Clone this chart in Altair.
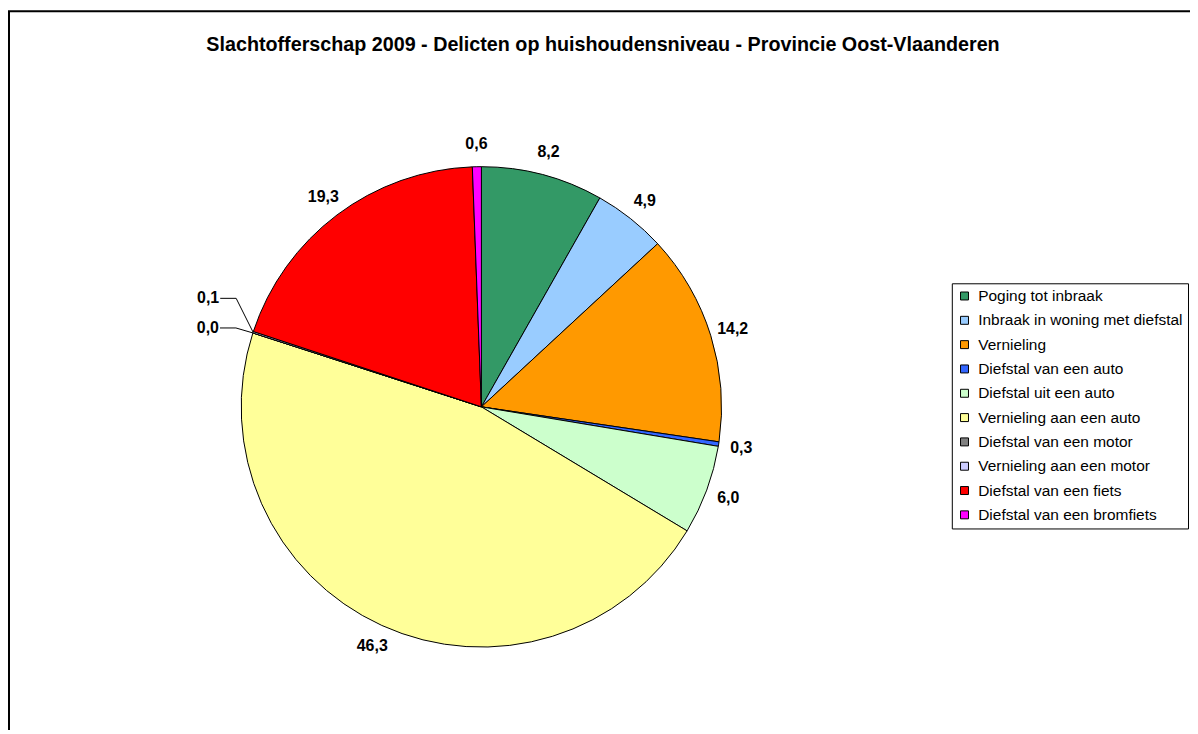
import math
import altair as alt
import pandas as pd

categories = [
    "Poging tot inbraak",
    "Inbraak in woning met diefstal",
    "Vernieling",
    "Diefstal van een auto",
    "Diefstal uit een auto",
    "Vernieling aan een auto",
    "Diefstal van een motor",
    "Vernieling aan een motor",
    "Diefstal van een fiets",
    "Diefstal van een bromfiets",
]
values = [8.2, 4.9, 14.2, 0.3, 6.0, 46.3, 0.0, 0.1, 19.3, 0.6]
colors = ["#339966", "#99CCFF", "#FF9900", "#3366FF", "#CCFFCC",
          "#FFFF99", "#808080", "#CCCCFF", "#FF0000", "#FF00FF"]
small_label_cats = ["Diefstal van een motor", "Vernieling aan een motor"]
title_text = "Slachtofferschap 2009 - Delicten op huishoudensniveau - Provincie Oost-Vlaanderen"

FONT = "Liberation Sans"
CX, CY, R, RL = 474, 397, 241, 264
LABEL_SIZE = 16

labels = [f"{v:.1f}".replace(".", ",") for v in values]
df = pd.DataFrame({
    "cat": categories,
    "val": values,
    "idx": list(range(len(values))),
    "label": labels,
    "mainlabel": [l if c not in small_label_cats else "" for c, l in zip(categories, labels)],
})

# leader lines for the tiny slices, derived from the slice angles
total = sum(values)
cum = 0.0
mids = {}
for c, v in zip(categories, values):
    mids[c] = (cum + v / 2) / total * 2 * math.pi
    cum += v
lead_rows, small_rows = [], []
offsets = {"Diefstal van een motor": -5, "Vernieling aan een motor": -34}
for c in small_label_cats:
    a = mids[c]
    rx, ry = CX + R * math.sin(a), CY - R * math.cos(a)
    cy_ = ry + offsets[c]
    pts = [(rx - 33, cy_), (rx - 17, cy_), (rx, ry)]
    for s, (px, py) in enumerate(pts):
        lead_rows.append({"cat": c, "seq": s, "px": px, "py": py})
    small_rows.append({"cat": c, "px": rx - 34, "py": cy_,
                       "label": labels[categories.index(c)]})
lead_df = pd.DataFrame(lead_rows)
small_df = pd.DataFrame(small_rows)

base = alt.Chart(df)

pie = base.mark_arc(radius=R, stroke="black", strokeWidth=1).encode(
    theta=alt.Theta("val:Q", stack=True),
    color=alt.Color(
        "cat:N",
        scale=alt.Scale(domain=categories, range=colors),
        sort=categories,
        legend=alt.Legend(
            title=None, orient="none", legendX=946, legendY=273,
            strokeColor="black", fillColor="white", padding=5,
            symbolType="square", symbolSize=64, symbolStrokeColor="black",
            symbolStrokeWidth=1, symbolOpacity=1,
            labelFont=FONT, labelFontSize=15.5, labelColor="black",
            labelLimit=400, rowPadding=7.4, labelOffset=6,
        ),
    ),
    order=alt.Order("idx:Q"),
    x=alt.value(CX), y=alt.value(CY),
)

text = base.mark_text(radius=RL, font=FONT, fontSize=LABEL_SIZE, fontWeight="bold",
                      color="black").encode(
    theta=alt.Theta("val:Q", stack=True),
    detail="cat:N",
    order=alt.Order("idx:Q"),
    text="mainlabel:N",
    x=alt.value(CX), y=alt.value(CY),
)

lead = alt.Chart(lead_df).mark_line(color="black", strokeWidth=1).encode(
    x=alt.X("px:Q", scale=None, axis=None),
    y=alt.Y("py:Q", scale=None, axis=None),
    detail="cat:N",
    order="seq:Q",
)

small = alt.Chart(small_df).mark_text(align="right", baseline="middle", font=FONT,
                                      fontSize=LABEL_SIZE, fontWeight="bold",
                                      color="black").encode(
    x=alt.X("px:Q", scale=None, axis=None),
    y=alt.Y("py:Q", scale=None, axis=None),
    text="label:N",
)

title = alt.Chart(pd.DataFrame({"t": [title_text]})).mark_text(
    font=FONT, fontSize=19.8, fontWeight="bold", color="black"
).encode(text="t:N", x=alt.value(596), y=alt.value(34))

border = alt.Chart(pd.DataFrame({"a": [1]})).mark_rect(
    filled=False, stroke="black", strokeWidth=2, clip=False
).encode(x=alt.value(0), x2=alt.value(3000), y=alt.value(0), y2=alt.value(3000))

chart = alt.layer(border, pie, text, lead, small, title).properties(
    width=1185, height=720,
    padding={"left": 1, "top": 2, "right": 0, "bottom": 0},
    autosize="none",
    background="white",
).configure_view(stroke=None)

chart.save("out.html", embed_options={"renderer": "svg", "actions": False})
